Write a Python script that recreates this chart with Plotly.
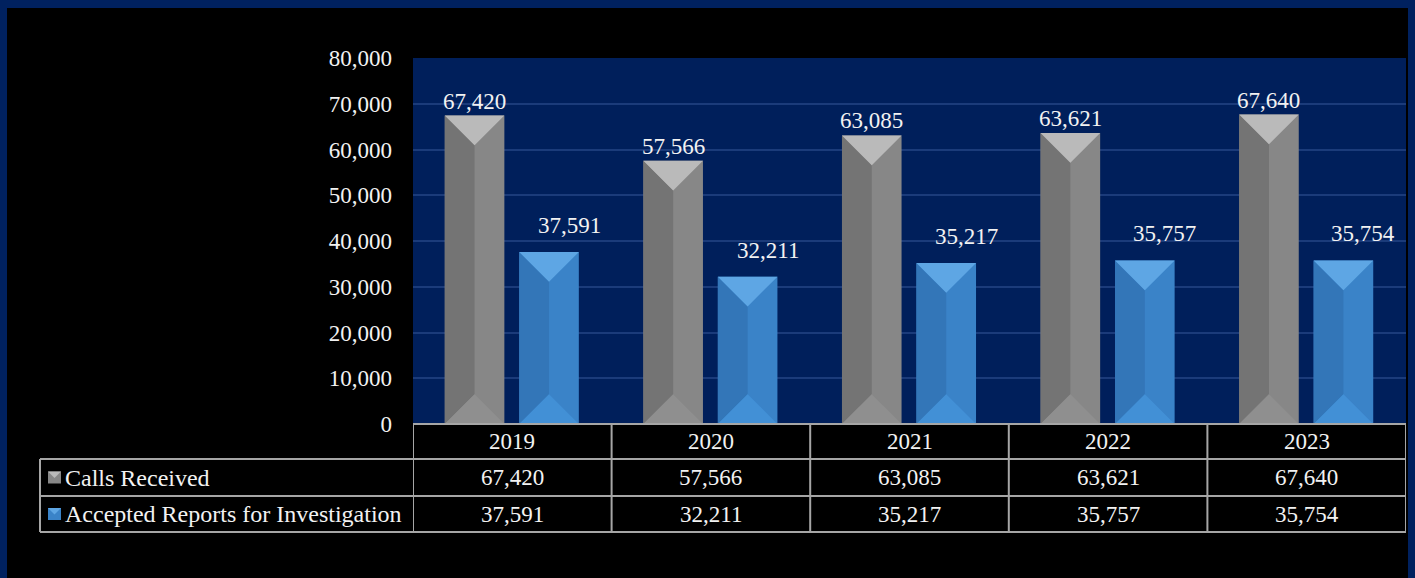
import plotly.graph_objects as go

# ---------------- data ----------------
years = ["2019", "2020", "2021", "2022", "2023"]
calls_received = [67420, 57566, 63085, 63621, 67640]
accepted_reports = [37591, 32211, 35217, 35757, 35754]
series_names = ["Calls Received", "Accepted Reports for Investigation"]
y_tick_values = [0, 10000, 20000, 30000, 40000, 50000, 60000, 70000, 80000]

# ---------------- layout constants ----------------
W, H = 1415, 578
L, R, T, B = 413, 9, 58, 154
PW, PH = W - L - R, H - T - B
YMAX = 80000
BAR_W = 0.30
OFFSETS = [-0.34, 0.035]
FONT = "Liberation Serif"
FS = 23
TXT = "#f2f2f2"
PLOT_BG = "#001f5b"
BORDER_BLUE = "#00215f"
GRID = "#1b3b7a"
TABLE_LINE = "#a6a6a6"

# colours: [right/base, left, top triangle, bottom triangle]
styles = [
    dict(base="#878787", left="#747474", top="#bababa", bottom="#8f8f8f"),
    dict(base="#3a83c8", left="#3376b8", top="#5ea6e4", bottom="#4290d6"),
]


def px_x(px):
    return (px - L) / PW


def px_y(py):
    return 1 - (py - T) / PH


n = len(years)
xs = list(range(n))
depth_px = BAR_W * PW / n / 2
DY = depth_px / PH * YMAX

fig = go.Figure()

for s, (name, vals) in enumerate(zip(series_names, [calls_received, accepted_reports])):
    st = styles[s]
    fig.add_trace(go.Bar(
        x=xs, y=vals, name=name, width=BAR_W, offset=OFFSETS[s],
        marker=dict(color=st["base"], line=dict(width=0)),
        hoverinfo="y", showlegend=False,
    ))
    left_x, left_y, top_x, top_y, bot_x, bot_y = [], [], [], [], [], []
    for i, v in enumerate(vals):
        x0 = i + OFFSETS[s]
        x1 = x0 + BAR_W
        xc = (x0 + x1) / 2
        left_x += [x0, xc, xc, x0, x0, None]
        left_y += [0, DY, v - DY, v, 0, None]
        top_x += [x0, x1, xc, x0, None]
        top_y += [v, v, v - DY, v, None]
        bot_x += [x0, x1, xc, x0, None]
        bot_y += [0, 0, DY, 0, None]
    for px_, py_, col in [(left_x, left_y, st["left"]), (top_x, top_y, st["top"]), (bot_x, bot_y, st["bottom"])]:
        fig.add_trace(go.Scatter(
            x=px_, y=py_, mode="lines", fill="toself", fillcolor=col,
            line=dict(width=0, color=col), hoverinfo="skip", showlegend=False,
        ))

annotations = []
# data labels
for s, vals in enumerate([calls_received, accepted_reports]):
    for i, v in enumerate(vals):
        annotations.append(dict(
            x=i + OFFSETS[s] + BAR_W / 2, y=v, xref="x", yref="y",
            text=f"{v:,}", showarrow=False, yanchor="bottom", xanchor="center",
            xshift=0 if s == 0 else 20, yshift=0 if s == 0 else 12,
            font=dict(family=FONT, size=FS, color=TXT),
        ))

# ---------------- data table ----------------
row_edges_px = [424, 459, 496, 532]
label_left_px = 40
shapes = []
line = dict(color=TABLE_LINE, width=2)
shapes.append(dict(type="line", xref="paper", yref="paper", x0=0, x1=1,
                   y0=px_y(row_edges_px[0]), y1=px_y(row_edges_px[0]), line=line))
for py in row_edges_px[1:]:
    shapes.append(dict(type="line", xref="paper", yref="paper", x0=px_x(label_left_px), x1=1,
                       y0=px_y(py), y1=px_y(py), line=line))
for k in range(n + 1):
    shapes.append(dict(type="line", xref="x", yref="paper", x0=k - 0.5, x1=k - 0.5,
                       y0=px_y(row_edges_px[0]), y1=px_y(row_edges_px[-1]), line=line))
shapes.append(dict(type="line", xref="paper", yref="paper", x0=px_x(label_left_px), x1=px_x(label_left_px),
                   y0=px_y(row_edges_px[1]), y1=px_y(row_edges_px[-1]), line=line))

row_centers = [(row_edges_px[j] + row_edges_px[j + 1]) / 2 for j in range(3)]
for i, yr in enumerate(years):
    annotations.append(dict(x=i, y=px_y(row_centers[0]), xref="x", yref="paper", text=yr,
                            xanchor="center", yanchor="middle",
                            showarrow=False, font=dict(family=FONT, size=FS, color=TXT)))
for r, vals in enumerate([calls_received, accepted_reports]):
    for i, v in enumerate(vals):
        annotations.append(dict(x=i, y=px_y(row_centers[r + 1]), xref="x", yref="paper", text=f"{v:,}",
                                xanchor="center", yanchor="middle",
                                showarrow=False, font=dict(family=FONT, size=FS, color=TXT)))
    annotations.append(dict(x=px_x(63), y=px_y(row_centers[r + 1]), xref="paper", yref="paper",
                            text=series_names[r], xanchor="left", yanchor="middle", showarrow=False,
                            font=dict(family=FONT, size=FS + 1, color=TXT)))
    st = styles[r]
    cy = row_centers[r + 1]
    kx0, kx1 = 48, 61
    ky0, ky1 = cy - 6, cy + 6
    shapes.append(dict(type="rect", xref="paper", yref="paper", x0=px_x(kx0), x1=px_x(kx1),
                       y0=px_y(ky1), y1=px_y(ky0), fillcolor=st["base"], line=dict(width=0)))
    kxc = (kx0 + kx1) / 2
    path = (f"M {px_x(kx0)} {px_y(ky0)} L {px_x(kx1)} {px_y(ky0)} "
            f"L {px_x(kxc)} {px_y(ky0 + 6.5)} Z")
    shapes.append(dict(type="path", xref="paper", yref="paper", path=path,
                       fillcolor=st["top"], line=dict(width=0)))

# ---------------- page border (blue frame) ----------------
frame = [(0, 7, 0, H), (0, W, 0, 8), (1408, W, 0, H)]
for x0, x1, y0, y1 in frame:
    shapes.append(dict(type="rect", xref="paper", yref="paper",
                       x0=px_x(x0), x1=px_x(x1), y0=px_y(y1), y1=px_y(y0),
                       fillcolor=BORDER_BLUE, line=dict(width=0)))

fig.update_layout(
    width=W, height=H,
    margin=dict(l=L, r=R, t=T, b=B, pad=0),
    paper_bgcolor="#000000", plot_bgcolor=PLOT_BG,
    barmode="group",
    font=dict(family=FONT, size=FS, color=TXT),
    xaxis=dict(range=[-0.5, n - 0.5], showticklabels=False, showgrid=False,
               zeroline=False, showline=False, ticks="", fixedrange=True),
    yaxis=dict(range=[0, YMAX], tickvals=y_tick_values,
               ticktext=[f"{v:,}" for v in y_tick_values],
               showgrid=True, gridcolor=GRID, gridwidth=1.5, zeroline=False,
               showline=False, ticks="", ticklabelstandoff=20,
               tickfont=dict(family=FONT, size=FS, color=TXT), fixedrange=True),
    shapes=shapes, annotations=annotations,
    showlegend=False,
)

fig.write_html(
    "out.html",
    config={"displayModeBar": False},
    post_script="document.body.style.margin='0';document.body.style.background='#000';document.body.style.overflow='hidden';",
)
